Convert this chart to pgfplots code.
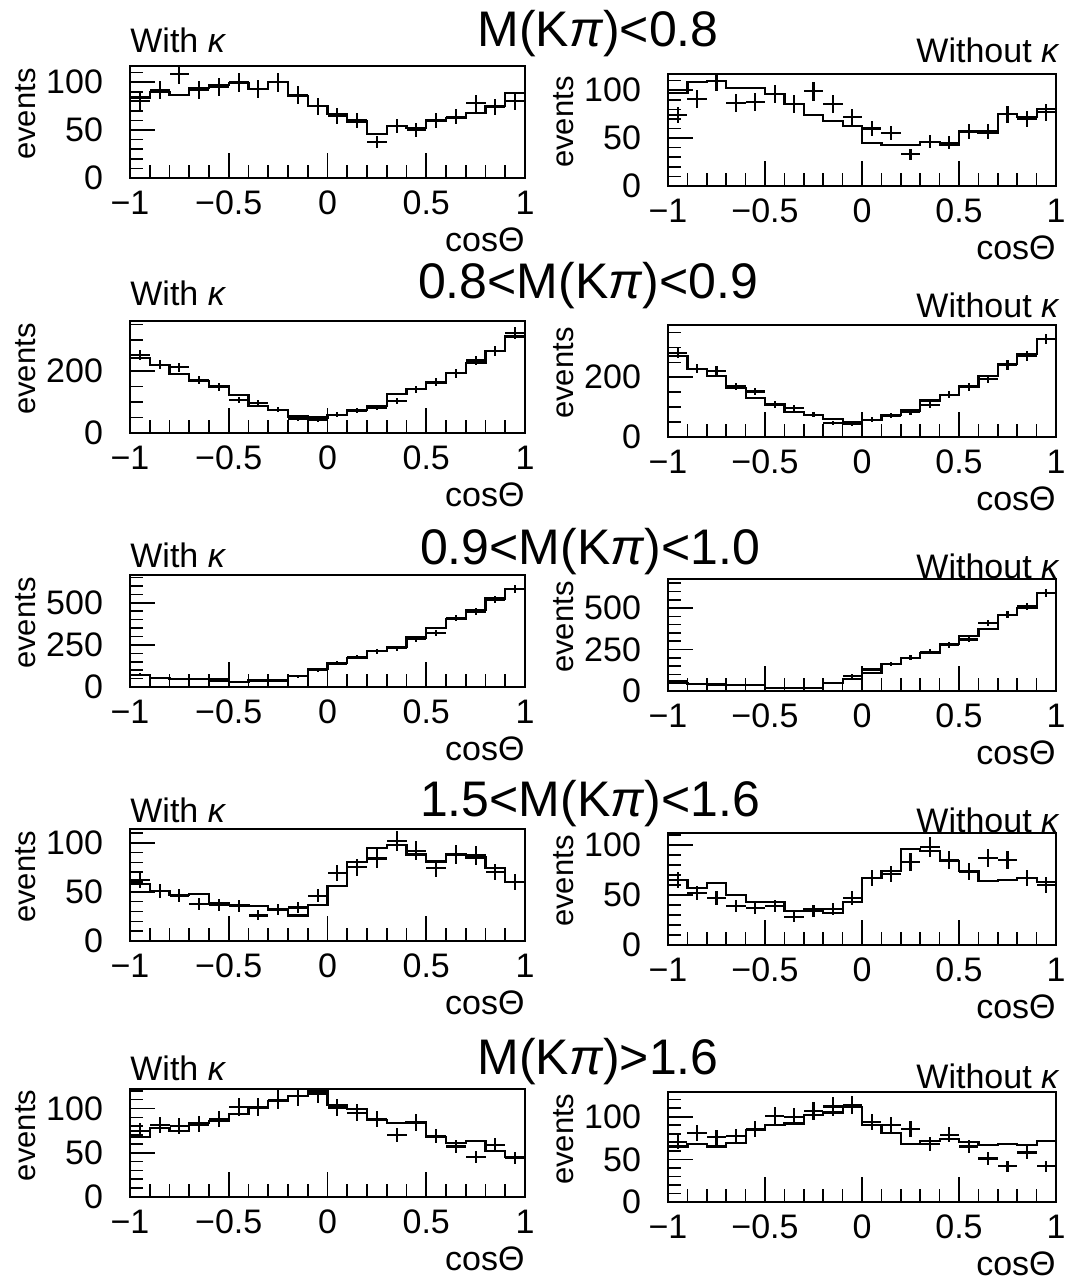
\documentclass[border=0pt]{standalone}
\usepackage{fontspec}
\setmainfont{Liberation Sans}
\usepackage{pgfplots}
\usepackage{pgfplotstable}
\pgfplotsset{compat=1.18}
\newcommand{\fs}{\fontsize{17}{20}\selectfont}
\pgfplotsset{
  panel/.style={
    scale only axis, height=56pt, anchor=south west,
    xmin=-1, xmax=1, ymin=0,
    xtick={-1,-0.5,0,0.5,1},
    xticklabels={−1,−0.5,0,0.5,1},
    minor xtick={-0.9,-0.8,-0.7,-0.6,-0.4,-0.3,-0.2,-0.1,0.1,0.2,0.3,0.4,0.6,0.7,0.8,0.9},
    tick align=inside, tick pos=left,
    major tick length=12.5pt, minor tick length=6.5pt,
    axis line style={line width=0.9pt},
    every tick/.style={black, line width=0.8pt},
    tick label style={font=\fs, inner ysep=0pt},
    xticklabel style={inner xsep=0pt, yshift=-6.4pt},
    yticklabel style={xshift=-10pt},
    xlabel={cosΘ}, ylabel={events},
    every axis x label/.style={at={(axis description cs:1,0)}, anchor=east, yshift=-31pt, inner sep=0pt, font=\fs},
    every axis y label/.style={at={(axis description cs:0,0.57)}, xshift=-52pt, rotate=90, anchor=center, inner sep=0pt, font=\fontsize{15.5}{18}\selectfont},
  },
  rowA/.style={ytick={0,50,100}, yticklabels={0,50,100}, minor ytick={10,20,30,40,60,70,80,90,110,120}},
  rowB/.style={ytick={0,200}, yticklabels={0,200}, minor ytick={50,100,150,250,300,350}},
  rowC/.style={ytick={0,250,500}, yticklabels={0,250,500}, minor ytick={50,100,150,200,300,350,400,450,550,600,650}},
  hist/.style={const plot, black, line width=1.1pt, mark=none},
  pts/.style={draw=none, mark=none, error bars/.cd, x dir=both, x fixed=0.05, y dir=both, y explicit, error mark=none, error bar style={draw=black, solid, line width=1.1pt}},
}
% columns: left edge, histogram, bin centre, data, error
\pgfplotstableread{
xl h xc d e
-1.0 84 -0.95 80 9.0
-0.9 90 -0.85 92 9.6
-0.8 87 -0.75 109 10.4
-0.7 94 -0.65 92 9.6
-0.6 97 -0.55 95 9.7
-0.5 99 -0.45 100 10
-0.4 93 -0.35 93 9.6
-0.3 100 -0.25 100 10
-0.2 86 -0.15 87 9.3
-0.1 75 -0.05 75 8.7
0.0 67 0.05 65 8.1
0.1 59 0.15 60 7.7
0.2 46 0.25 38 6.2
0.3 54 0.35 54 7.3
0.4 52 0.45 50 7.1
0.5 60 0.55 60 7.7
0.6 63 0.65 64 8.0
0.7 68 0.75 78 8.8
0.8 75 0.85 74 8.6
0.9 89 0.95 80 8.9
1.0 89 nan nan nan
}\pA
\pgfplotstableread{
xl h xc d e
-1.0 97 -0.95 74 8.6
-0.9 109 -0.85 91 9.5
-0.8 110 -0.75 110 10.5
-0.7 102 -0.65 87 9.3
-0.6 102 -0.55 88 9.4
-0.5 96 -0.45 96 9.8
-0.4 86 -0.35 86 9.3
-0.3 74 -0.25 99 9.9
-0.2 68 -0.15 86 9.3
-0.1 63 -0.05 72 8.5
0.0 45 0.05 60 7.7
0.1 43 0.15 55 7.4
0.2 43 0.25 33 5.7
0.3 46 0.35 46 6.8
0.4 43 0.45 45 6.7
0.5 57 0.55 57 7.5
0.6 55 0.65 57 7.5
0.7 75 0.75 75 8.7
0.8 72 0.85 70 8.4
0.9 80 0.95 77 8.8
1.0 80 nan nan nan
}\pB
\pgfplotstableread{
xl h xc d e
-1.0 243 -0.95 253 15.9
-0.9 219 -0.85 221 14.9
-0.8 191 -0.75 213 14.6
-0.7 168 -0.65 170 13
-0.6 150 -0.55 149 12.2
-0.5 122 -0.45 106 10.3
-0.4 88 -0.35 98 9.9
-0.3 75 -0.25 75 8.7
-0.2 53 -0.15 45 6.7
-0.1 50 -0.05 42 6.5
0.0 59 0.05 59 7.7
0.1 75 0.15 72 8.5
0.2 86 0.25 82 9.1
0.3 125 0.35 104 10.2
0.4 141 0.45 141 11.9
0.5 163 0.55 166 12.9
0.6 195 0.65 193 13.9
0.7 225 0.75 234 15.3
0.8 266 0.85 266 16.3
0.9 312 0.95 323 18
1.0 312 nan nan nan
}\pC
\pgfplotstableread{
xl h xc d e
-1.0 270 -0.95 280 16.7
-0.9 228 -0.85 228 15.1
-0.8 203 -0.75 222 14.9
-0.7 163 -0.65 169 13
-0.6 130 -0.55 152 12.3
-0.5 109 -0.45 109 10.4
-0.4 83 -0.35 97 9.8
-0.3 74 -0.25 74 8.6
-0.2 61 -0.15 47 6.9
-0.1 50 -0.05 44 6.6
0.0 56 0.05 58 7.6
0.1 74 0.15 72 8.5
0.2 89 0.25 83 9.1
0.3 122 0.35 106 10.3
0.4 141 0.45 141 11.9
0.5 169 0.55 167 12.9
0.6 203 0.65 194 13.9
0.7 244 0.75 241 15.5
0.8 278 0.85 272 16.5
0.9 328 0.95 328 18.1
1.0 328 nan nan nan
}\pD
\pgfplotstableread{
xl h xc d e
-1.0 73 -0.95 73 8.5
-0.9 54 -0.85 54 7.3
-0.8 48 -0.75 48 6.9
-0.7 48 -0.65 48 6.9
-0.6 44 -0.55 38 6.2
-0.5 31 -0.45 31 5.6
-0.4 38 -0.35 35 5.9
-0.3 38 -0.25 38 6.2
-0.2 63 -0.15 63 7.9
-0.1 106 -0.05 102 10.1
0.0 144 0.05 140 11.8
0.1 173 0.15 179 13.4
0.2 212 0.25 212 14.6
0.3 237 0.35 231 15.2
0.4 294 0.45 285 16.9
0.5 352 0.55 319 17.9
0.6 404 0.65 410 20.2
0.7 458 0.75 448 21.2
0.8 525 0.85 519 22.8
0.9 583 0.95 583 24.1
1.0 583 nan nan nan
}\pE
\pgfplotstableread{
xl h xc d e
-1.0 50 -0.95 60 7.7
-0.9 40 -0.85 44 6.6
-0.8 36 -0.75 40 6.3
-0.7 36 -0.65 34 5.8
-0.6 36 -0.55 34 5.8
-0.5 16 -0.45 20 4.5
-0.4 20 -0.35 20 4.5
-0.3 20 -0.25 20 4.5
-0.2 50 -0.15 50 7.1
-0.1 70 -0.05 90 9.5
0.0 110 0.05 130 11.4
0.1 164 0.15 164 12.8
0.2 200 0.25 200 14.1
0.3 230 0.35 236 15.4
0.4 284 0.45 276 16.6
0.5 330 0.55 310 17.6
0.6 376 0.65 410 20.2
0.7 460 0.75 460 21.4
0.8 500 0.85 510 22.6
0.9 590 0.95 590 24.3
1.0 590 nan nan nan
}\pF
\pgfplotstableread{
xl h xc d e
-1.0 58 -0.95 62 7.9
-0.9 51 -0.85 51 7.1
-0.8 47 -0.75 46 6.8
-0.7 48 -0.65 38 6.2
-0.6 39 -0.55 37 6.1
-0.5 37 -0.45 36 6.0
-0.4 36 -0.35 26 5.1
-0.3 32 -0.25 32 5.7
-0.2 26 -0.15 34 5.8
-0.1 37 -0.05 46 6.8
0.0 56 0.05 69 8.3
0.1 80 0.15 75 8.7
0.2 95 0.25 84 9.2
0.3 98 0.35 102 10.1
0.4 88 0.45 92 9.6
0.5 81 0.55 74 8.6
0.6 88 0.65 88 9.4
0.7 85 0.75 87 9.3
0.8 74 0.85 70 8.4
0.9 60 0.95 60 7.7
1.0 60 nan nan nan
}\pG
\pgfplotstableread{
xl h xc d e
-1.0 65 -0.95 65 8.1
-0.9 57 -0.85 52 7.2
-0.8 62 -0.75 47 6.9
-0.7 50 -0.65 39 6.2
-0.6 43 -0.55 37 6.1
-0.5 43 -0.45 39 6.2
-0.4 34 -0.35 28 5.3
-0.3 36 -0.25 34 5.8
-0.2 32 -0.15 36 6.0
-0.1 43 -0.05 47 6.9
0.0 67 0.05 67 8.2
0.1 74 0.15 71 8.4
0.2 96 0.25 83 9.1
0.3 94 0.35 98 9.9
0.4 84 0.45 85 9.2
0.5 74 0.55 73 8.5
0.6 64 0.65 87 9.3
0.7 65 0.75 85 9.2
0.8 67 0.85 67 8.2
0.9 63 0.95 60 7.7
1.0 63 nan nan nan
}\pH
\pgfplotstableread{
xl h xc d e
-1.0 68 -0.95 75 8.7
-0.9 78 -0.85 81 9.0
-0.8 75 -0.75 80 8.9
-0.7 84 -0.65 82 9.1
-0.6 86 -0.55 88 9.4
-0.5 94 -0.45 102 10.1
-0.4 101 -0.35 102 10.1
-0.3 108 -0.25 110 10.5
-0.2 114 -0.15 114 10.7
-0.1 120 -0.05 117 10.8
0.0 104 0.05 101 10
0.1 99 0.15 95 9.7
0.2 87 0.25 88 9.4
0.3 84 0.35 70 8.4
0.4 85 0.45 84 9.2
0.5 68 0.55 69 8.3
0.6 61 0.65 57 7.5
0.7 63 0.75 45 6.7
0.8 52 0.85 59 7.7
0.9 45 0.95 44 6.6
1.0 45 nan nan nan
}\pI
\pgfplotstableread{
xl h xc d e
-1.0 65 -0.95 70 8.4
-0.9 68 -0.85 81 9.0
-0.8 65 -0.75 76 8.7
-0.7 69 -0.65 77 8.8
-0.6 84 -0.55 86 9.3
-0.5 90 -0.45 101 10
-0.4 92 -0.35 100 10
-0.3 102 -0.25 107 10.3
-0.2 105 -0.15 112 10.6
-0.1 111 -0.05 114 10.7
0.0 90 0.05 94 9.7
0.1 81 0.15 90 9.5
0.2 68 0.25 86 9.3
0.3 72 0.35 68 8.2
0.4 74 0.45 79 8.9
0.5 70 0.55 65 8.1
0.6 67 0.65 51 7.1
0.7 68 0.75 42 6.5
0.8 67 0.85 58 7.6
0.9 72 0.95 42 6.5
1.0 72 nan nan nan
}\pJ
\begin{document}
\begin{tikzpicture}
\useasboundingbox (0,0) rectangle (533pt,644pt);
% titles
\node[font=\fontsize{25}{28}\selectfont] at (299pt,627pt) {M(K\textit{π})<0.8};
\node[font=\fontsize{25}{28}\selectfont] at (294pt,501pt) {0.8<M(K\textit{π})<0.9};
\node[font=\fontsize{25}{28}\selectfont] at (295pt,368pt) {0.9<M(K\textit{π})<1.0};
\node[font=\fontsize{25}{28}\selectfont] at (295pt,242pt) {1.5<M(K\textit{π})<1.6};
\node[font=\fontsize{25}{28}\selectfont] at (299pt,113pt) {M(K\textit{π})>1.6};
% with / without
\foreach \yy in {624,497.5,366.5,239,110} {\node[font=\fs, anchor=west, inner sep=0pt] at (65pt,\yy pt) {With \textit{κ}};}
\foreach \yy in {619,491.5,361,234,106} {\node[font=\fs, anchor=east, inner sep=0pt] at (530pt,\yy pt) {Without \textit{κ}};}
% row 1
\begin{axis}[panel, rowA, at={(65pt,555pt)}, width=197.5pt, ymax=117]
\addplot[hist] table[x=xl,y=h]{\pA};
\addplot[pts] table[x=xc,y=d,y error=e]{\pA};
\end{axis}
\begin{axis}[panel, rowA, at={(334pt,551pt)}, width=194pt, ymax=117]
\addplot[hist] table[x=xl,y=h]{\pB};
\addplot[pts] table[x=xc,y=d,y error=e]{\pB};
\end{axis}
% row 2
\begin{axis}[panel, rowB, at={(65pt,427.5pt)}, width=197.5pt, ymax=362]
\addplot[hist] table[x=xl,y=h]{\pC};
\addplot[pts] table[x=xc,y=d,y error=e]{\pC};
\end{axis}
\begin{axis}[panel, rowB, at={(334pt,425.5pt)}, width=194pt, ymax=375]
\addplot[hist] table[x=xl,y=h]{\pD};
\addplot[pts] table[x=xc,y=d,y error=e]{\pD};
\end{axis}
% row 3
\begin{axis}[panel, rowC, at={(65pt,300.5pt)}, width=197.5pt, ymax=665]
\addplot[hist] table[x=xl,y=h]{\pE};
\addplot[pts] table[x=xc,y=d,y error=e]{\pE};
\end{axis}
\begin{axis}[panel, rowC, at={(334pt,298.5pt)}, width=194pt, ymax=675]
\addplot[hist] table[x=xl,y=h]{\pF};
\addplot[pts] table[x=xc,y=d,y error=e]{\pF};
\end{axis}
% row 4
\begin{axis}[panel, rowA, at={(65pt,173.5pt)}, width=197.5pt, ymax=114]
\addplot[hist] table[x=xl,y=h]{\pG};
\addplot[pts] table[x=xc,y=d,y error=e]{\pG};
\end{axis}
\begin{axis}[panel, rowA, at={(334pt,171.5pt)}, width=194pt, ymax=112]
\addplot[hist] table[x=xl,y=h]{\pH};
\addplot[pts] table[x=xc,y=d,y error=e]{\pH};
\end{axis}
% row 5
\begin{axis}[panel, rowA, at={(65pt,45.5pt)}, width=197.5pt, height=54pt, ymax=122]
\addplot[hist] table[x=xl,y=h]{\pI};
\addplot[pts] table[x=xc,y=d,y error=e]{\pI};
\end{axis}
\begin{axis}[panel, rowA, at={(334pt,43pt)}, width=194pt, height=55pt, ymax=129]
\addplot[hist] table[x=xl,y=h]{\pJ};
\addplot[pts] table[x=xc,y=d,y error=e]{\pJ};
\end{axis}
\end{tikzpicture}
\end{document}
